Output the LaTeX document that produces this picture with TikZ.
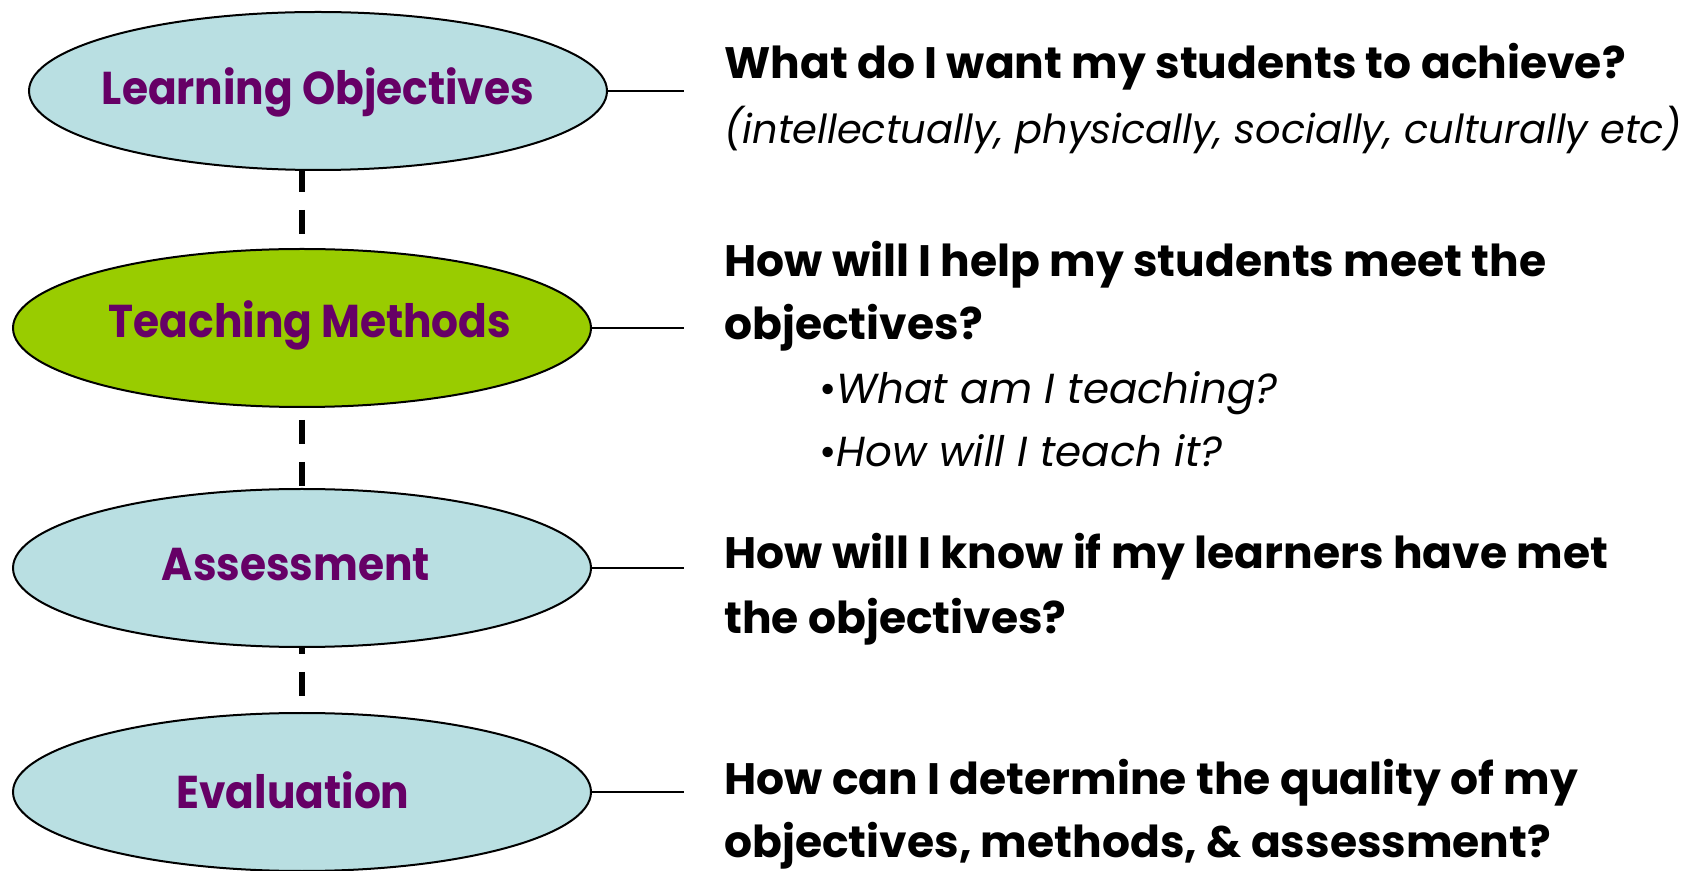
\documentclass[tikz,border=0pt]{standalone}
\usepackage{fontspec}
\setmainfont{Poppins}
\newfontfamily\stagefont{Poppins}[FakeStretch=0.92]
\usetikzlibrary{shapes.geometric}
\definecolor{paleblue}{RGB}{185,223,226}
\definecolor{leafgreen}{RGB}{153,204,0}
\definecolor{plum}{RGB}{102,0,102}
\begin{document}
\begin{tikzpicture}[x=0.5pt,y=-0.5pt,
  stage/.style={ellipse, draw=black, line width=1pt, fill=paleblue,
    minimum width=289pt, minimum height=79pt, inner sep=0pt},
  stagetext/.style={text=plum, font=\stagefont\fontsize{23}{26}\selectfont\bfseries, inner sep=0pt},
  question/.style={anchor=base west, inner sep=0pt, font=\fontsize{22}{24}\selectfont\bfseries},
  aside/.style={anchor=base west, inner sep=0pt, font=\fontsize{21}{24}\selectfont\itshape},
  spine/.style={line width=2.75pt, dash pattern=on 12pt off 9pt},
  tie/.style={line width=1pt}]
  % page frame
  \useasboundingbox (0,0) rectangle (1694,871);

  % dashed spine behind the four stages
  \coordinate (spineA) at (302,84);
  \coordinate (spineB) at (302,792);
  \draw[spine] (spineA) -- (spineB);

  % stages
  \node[stage] (lo) at (318,91) {};
  \node[stage, fill=leafgreen] (tm) at (302,328) {};
  \node[stage] (as) at (302,568) {};
  \node[stage] (ev) at (302,792) {};

  \node[stagetext] (lo-t) at (318,92) {Learning Objectives};
  \node[stagetext] (tm-t) at (310,325) {Teaching Methods};
  \node[stagetext] (as-t) at (296,565) {Assessment};
  \node[stagetext] (ev-t) at (293,790) {Evaluation};

  % ties to the questions
  \coordinate (lo-q) at (684,91);
  \coordinate (tm-q) at (684,328);
  \coordinate (as-q) at (684,568);
  \coordinate (ev-q) at (684,792);
  \draw[tie] (lo.east) -- (lo-q);
  \draw[tie] (tm.east) -- (tm-q);
  \draw[tie] (as.east) -- (as-q);
  \draw[tie] (ev.east) -- (ev-q);

  % questions
  \node[question] (q1a) at (724,79) {What do I want my students to achieve?};
  \node[aside, font=\fontsize{20}{24}\selectfont\itshape] (q1b) at (724,144) {(intellectually, physically, socially, culturally etc)};
  \node[question] (q2a) at (724,277) {How will I help my students meet the};
  \node[question] (q2b) at (724,340) {objectives?};
  \node[aside] (q2c) at (819,404) {{\upshape •}What am I teaching?};
  \node[aside] (q2d) at (819,467) {{\upshape •}How will I teach it?};
  \node[question] (q3a) at (724,569) {How will I know if my learners have met};
  \node[question] (q3b) at (724,634) {the objectives?};
  \node[question] (q4a) at (724,794) {How can I determine the quality of my};
  \node[question] (q4b) at (724,857) {objectives, methods, \& assessment?};
\end{tikzpicture}
\end{document}
